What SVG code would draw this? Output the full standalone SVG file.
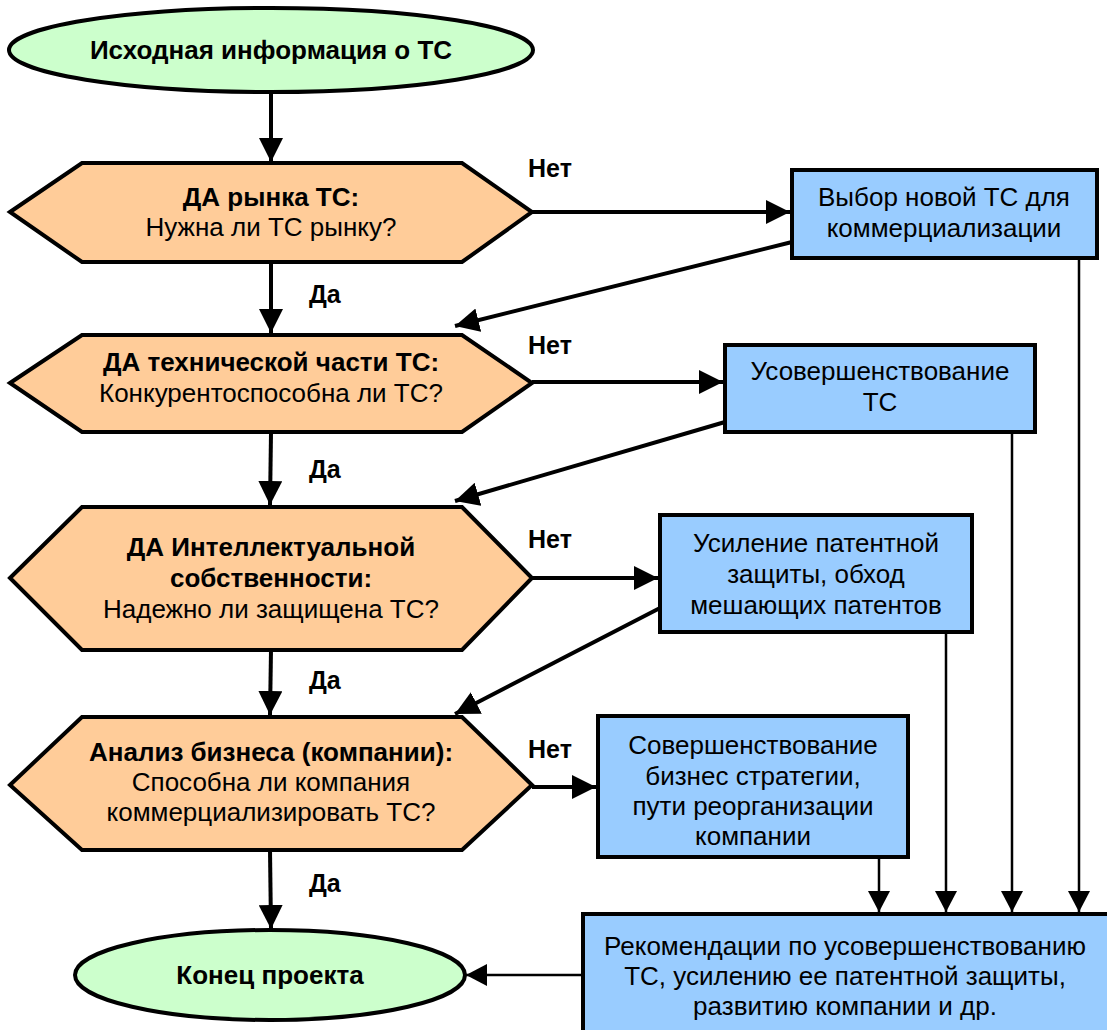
<svg xmlns="http://www.w3.org/2000/svg" width="1107" height="1030" viewBox="0 0 1107 1030">
<defs>
<marker id="ah" viewBox="0 0 24 24" refX="24" refY="12" markerWidth="24" markerHeight="24" markerUnits="userSpaceOnUse" orient="auto"><path d="M0,0 L24,12 L0,24 Z" fill="#000"/></marker>
<marker id="ah2" viewBox="0 0 21 22" refX="21" refY="11" markerWidth="21" markerHeight="22" markerUnits="userSpaceOnUse" orient="auto"><path d="M0,0 L21,11 L0,22 Z" fill="#000"/></marker>
</defs>
<style>
.term{fill:#CCFFCC;stroke:#000;stroke-width:4}
.dec{fill:#FFCC99;stroke:#000;stroke-width:4}
.box{fill:#99CCFF;stroke:#000;stroke-width:4}
text{font-family:"Liberation Sans",Arial,sans-serif;font-size:26px;fill:#000;text-anchor:middle}
.b{font-weight:bold}
.lbl{font-weight:bold;font-size:25px;text-anchor:start}
.c{fill:none;stroke:#000;stroke-width:4;marker-end:url(#ah)}
.t{fill:none;stroke:#000;stroke-width:2.5;marker-end:url(#ah2)}
</style>
<g id="connectors">
<line class="c" x1="271" y1="93" x2="271" y2="162"/>
<line class="c" x1="271" y1="263" x2="271" y2="333"/>
<line class="c" x1="271" y1="433" x2="270" y2="505"/>
<line class="c" x1="271" y1="650" x2="270" y2="715"/>
<line class="c" x1="270" y1="850" x2="271" y2="929"/>
<line class="c" x1="532" y1="212" x2="790" y2="212"/>
<line class="c" x1="532" y1="382" x2="723" y2="382"/>
<line class="c" x1="532" y1="578" x2="658" y2="578"/>
<line class="c" x1="532" y1="787" x2="596" y2="787"/>
<line class="c" x1="792" y1="242" x2="455" y2="326"/>
<line class="c" x1="725" y1="422" x2="455" y2="501"/>
<line class="c" x1="660" y1="608" x2="455" y2="714"/>
<line class="t" x1="879" y1="857" x2="879" y2="912"/>
<line class="t" x1="946" y1="632" x2="946" y2="912"/>
<line class="t" x1="1012" y1="432" x2="1012" y2="912"/>
<line class="t" x1="1079" y1="258" x2="1079" y2="912"/>
<line class="t" x1="582" y1="975" x2="466" y2="975"/>
<text class="lbl" x="528" y="177">Нет</text>
<text class="lbl" x="528" y="354">Нет</text>
<text class="lbl" x="528" y="548">Нет</text>
<text class="lbl" x="528" y="758">Нет</text>
<text class="lbl" x="309" y="303">Да</text>
<text class="lbl" x="309" y="478">Да</text>
<text class="lbl" x="309" y="689">Да</text>
<text class="lbl" x="309" y="892">Да</text>
</g>
<g id="start">
<ellipse class="term" cx="271" cy="50" rx="262" ry="42"/>
<text class="b" x="271" y="59">Исходная информация о ТС</text>
</g>
<g id="d1">
<polygon class="dec" points="10,212 82,163 462,163 532,212 462,262 82,262"/>
<text class="b" x="271" y="206">ДА рынка ТС:</text>
<text x="271" y="236">Нужна ли ТС рынку?</text>
</g>
<g id="d2">
<polygon class="dec" points="10,383 82,335 462,335 532,383 462,432 82,432"/>
<text class="b" x="271" y="371">ДА технической части ТС:</text>
<text x="271" y="402">Конкурентоспособна ли ТС?</text>
</g>
<g id="d3">
<polygon class="dec" points="10,578 82,507 462,507 532,578 462,650 82,650"/>
<text class="b" x="271" y="556">ДА Интеллектуальной</text>
<text class="b" x="271" y="587">собственности:</text>
<text x="271" y="618">Надежно ли защищена ТС?</text>
</g>
<g id="d4">
<polygon class="dec" points="10,785 82,717 462,717 532,785 462,850 82,850"/>
<text class="b" x="271" y="761">Анализ бизнеса (компании):</text>
<text x="271" y="791">Способна ли компания</text>
<text x="271" y="821">коммерциализировать ТС?</text>
</g>
<g id="b1">
<rect class="box" x="792" y="170" width="305" height="88"/>
<text x="944" y="206">Выбор новой ТС для</text>
<text x="944" y="237">коммерциализации</text>
</g>
<g id="b2">
<rect class="box" x="725" y="345" width="310" height="87"/>
<text x="880" y="380">Усовершенствование</text>
<text x="880" y="411">ТС</text>
</g>
<g id="b3">
<rect class="box" x="660" y="515" width="312" height="117"/>
<text x="816" y="552">Усиление патентной</text>
<text x="816" y="583">защиты, обход</text>
<text x="816" y="614">мешающих патентов</text>
</g>
<g id="b4">
<rect class="box" x="598" y="716" width="310" height="141"/>
<text x="753" y="754">Совершенствование</text>
<text x="753" y="785">бизнес стратегии,</text>
<text x="753" y="815">пути реорганизации</text>
<text x="753" y="845">компании</text>
</g>
<g id="b5">
<rect class="box" x="583" y="914" width="526" height="120"/>
<text x="845" y="955">Рекомендации по усовершенствованию</text>
<text x="845" y="985">ТС, усилению ее патентной защиты,</text>
<text x="845" y="1015">развитию компании и др.</text>
</g>
<g id="end">
<ellipse class="term" cx="270" cy="975" rx="195" ry="45"/>
<text class="b" x="270" y="984">Конец проекта</text>
</g>
</svg>
